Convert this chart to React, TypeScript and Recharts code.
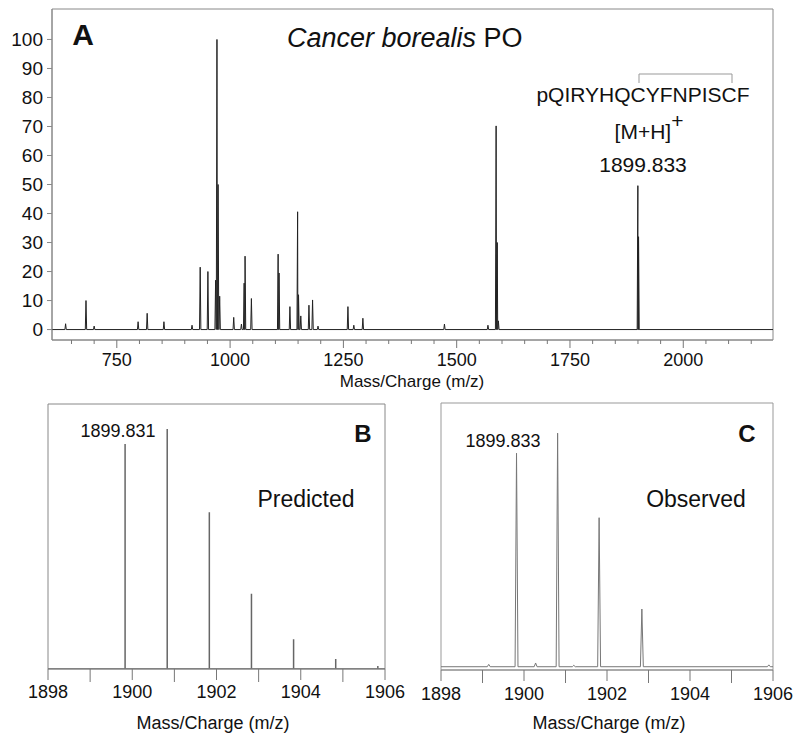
import { LineChart, Line, XAxis, YAxis, ReferenceArea } from "recharts";

const FONT = "'Liberation Sans', Arial, sans-serif";

// Panel A: full MALDI spectrum (m/z, relative intensity)
const spectrumMz = [
	637, 682, 700, 797, 817, 854, 916, 934, 951, 968, 971, 973.5, 977, 1008,
	1025, 1031, 1033, 1047, 1106, 1108, 1132, 1149, 1151, 1156, 1174, 1182,
	1194, 1260, 1273, 1293, 1473, 1569, 1587, 1589.5, 1592, 1899.8, 1901.3,
];
const spectrumIntensity = [
	2, 10, 1.2, 2.7, 5.6, 2.7, 1.5, 21.5, 20, 17, 100, 50, 11.5, 4.2, 1.9, 16,
	25.3, 10.7, 26, 19.5, 7.9, 40.6, 12, 4.7, 8.4, 10.2, 1.2, 7.9, 1.5, 3.9, 1.9,
	1.5, 70.2, 30, 3, 49.6, 32,
];
const overviewTicks = [
	650, 700, 750, 800, 850, 900, 950, 1000, 1050, 1100, 1150, 1200, 1250, 1300,
	1350, 1400, 1450, 1500, 1550, 1600, 1650, 1700, 1750, 1800, 1850, 1900, 1950,
	2000, 2050, 2100, 2150,
];
const overviewLabels = [750, 1000, 1250, 1500, 1750, 2000];
const intensityTicks = [0, 10, 20, 30, 40, 50, 60, 70, 80, 90, 100];

// Panel B: predicted isotope pattern
const predictedMz = [1899.83, 1900.83, 1901.83, 1902.83, 1903.83, 1904.83, 1905.83];
const predictedAbundance = [93.75, 100, 65.3, 31.4, 12.4, 4.2, 1.25];

// Panel C: observed isotope pattern
const observedMz = [1899.15, 1899.82, 1900.28, 1900.81, 1901.2, 1901.81, 1902.84, 1905.9];
const observedIntensity = [1.0, 91.4, 1.6, 100, 0.6, 63.8, 24.7, 0.8];

const isotopeTicks = [1898, 1899, 1900, 1901, 1902, 1903, 1904, 1905, 1906];
const isotopeLabels = [1898, 1900, 1902, 1904, 1906];

type Pt = { mz: number; v: number };

function peakTrace(mz: number[], h: number[], halfWidth: number, from: number, to: number): Pt[] {
	const pts: Pt[] = [{ mz: from, v: 0 }];
	mz.forEach((m, i) => {
		pts.push({ mz: m - halfWidth, v: 0 }, { mz: m, v: h[i] }, { mz: m + halfWidth, v: 0 });
	});
	pts.push({ mz: to, v: 0 });
	return pts.sort((a, b) => a.mz - b.mz);
}

function stickTrace(mz: number[], h: number[], from: number, to: number): Pt[] {
	const pts: Pt[] = [{ mz: from, v: 0 }];
	mz.forEach((m, i) => {
		pts.push({ mz: m, v: 0 }, { mz: m, v: h[i] }, { mz: m, v: 0 });
	});
	pts.push({ mz: to, v: 0 });
	return pts;
}

const spectrumA = peakTrace(spectrumMz, spectrumIntensity, 1.5, 607, 2198);
const spectrumB = stickTrace(predictedMz, predictedAbundance, 1898, 1906);
const spectrumC = peakTrace(observedMz, observedIntensity, 0.035, 1898, 1906);

function MzTick(props: any) {
	const { x, y, payload, labels, major, minor, dy, fontSize } = props;
	const v = payload.value;
	const isMajor = labels.includes(v);
	return (
		<g>
			<line x1={x} x2={x} y1={y} y2={y + (isMajor ? major : minor)} stroke="#777" strokeWidth={1} />
			{isMajor && (
				<text x={x} y={y + dy} textAnchor="middle" fontSize={fontSize} fill="#111" fontFamily={FONT}>
					{v}
				</text>
			)}
		</g>
	);
}

export default function App() {
	return (
		<div style={{ position: "absolute", left: 0, top: 0, width: 800, height: 738, background: "#fff" }}>
			<div style={{ position: "absolute", left: 0, top: 0 }}>
				<LineChart width={800} height={400} data={spectrumA} margin={{ top: 9, right: 27, left: 7, bottom: 30 }}>
					<XAxis
						dataKey="mz"
						type="number"
						domain={[607, 2198]}
						allowDataOverflow
						ticks={overviewTicks}
						interval={0}
						tickSize={0}
						tickMargin={0}
						height={30}
						stroke="#888"
						tick={(p: any) => <MzTick {...p} labels={overviewLabels} major={8} minor={4} dy={26} fontSize={18} />}
					/>
					<YAxis
						type="number"
						domain={[-3.6, 110.5]}
						allowDataOverflow
						ticks={intensityTicks}
						interval={0}
						width={45}
						tickSize={5}
						tickMargin={4}
						stroke="#888"
						tick={{ fontSize: 19, fill: "#111", fontFamily: FONT }}
					/>
					<ReferenceArea x1={607} x2={2198} y1={-3.6} y2={110.5} fill="none" stroke="#888" strokeWidth={1} />
					<Line dataKey="v" type="linear" stroke="#222" strokeWidth={1} dot={false} isAnimationActive={false} />
				</LineChart>
			</div>

			<div style={{ position: "absolute", left: 0, top: 390 }}>
				<LineChart width={420} height={348} data={spectrumB} margin={{ top: 14, right: 35, left: 48, bottom: 29 }}>
					<XAxis
						dataKey="mz"
						type="number"
						domain={[1898, 1906]}
						allowDataOverflow
						ticks={isotopeTicks}
						interval={0}
						tickSize={0}
						tickMargin={0}
						height={40}
						stroke="#888"
						tick={(p: any) => <MzTick {...p} labels={isotopeLabels} major={11} minor={13} dy={29} fontSize={18} />}
					/>
					<YAxis hide type="number" domain={[0, 110.4]} allowDataOverflow />
					<ReferenceArea x1={1898} x2={1906} y1={0} y2={110.4} fill="none" stroke="#888" strokeWidth={1} />
					<Line dataKey="v" type="linear" stroke="#666" strokeWidth={1.5} dot={false} isAnimationActive={false} />
				</LineChart>
			</div>

			<div style={{ position: "absolute", left: 400, top: 390 }}>
				<LineChart width={400} height={348} data={spectrumC} margin={{ top: 13, right: 27, left: 41, bottom: 28 }}>
					<XAxis
						dataKey="mz"
						type="number"
						domain={[1898, 1906]}
						allowDataOverflow
						ticks={isotopeTicks}
						interval={0}
						tickSize={0}
						tickMargin={0}
						height={40}
						stroke="#888"
						tick={(p: any) => <MzTick {...p} labels={isotopeLabels} major={11} minor={13} dy={30} fontSize={18} />}
					/>
					<YAxis hide type="number" domain={[-1.4, 112.9]} allowDataOverflow />
					<ReferenceArea x1={1898} x2={1906} y1={-1.4} y2={112.9} fill="none" stroke="#999" strokeWidth={1} />
					<Line dataKey="v" type="linear" stroke="#777" strokeWidth={1} dot={false} isAnimationActive={false} />
				</LineChart>
			</div>

			<svg
				width={800}
				height={738}
				style={{ position: "absolute", left: 0, top: 0, pointerEvents: "none" }}
				fontFamily={FONT}
				fill="#111"
			>
				<text x={83} y={45} textAnchor="middle" fontSize={30} fontWeight="bold">A</text>
				<text x={287} y={47} fontSize={27}>
					<tspan fontStyle="italic">Cancer borealis</tspan> PO
				</text>
				<path d="M639 83 V74 H732 V83" fill="none" stroke="#999" strokeWidth={1} />
				<text x={643} y={102} textAnchor="middle" fontSize={21}>pQIRYHQCYFNPISCF</text>
				<text x={649} y={139} textAnchor="middle" fontSize={21}>
					[M+H]<tspan dy={-11}>+</tspan>
				</text>
				<text x={643} y={172} textAnchor="middle" fontSize={21}>1899.833</text>
				<text x={412} y={387} textAnchor="middle" fontSize={17}>Mass/Charge (m/z)</text>

				<text x={118} y={437} textAnchor="middle" fontSize={18}>1899.831</text>
				<text x={363} y={442} textAnchor="middle" fontSize={24} fontWeight="bold">B</text>
				<text x={306} y={507} textAnchor="middle" fontSize={23}>Predicted</text>
				<text x={213} y={729} textAnchor="middle" fontSize={18}>Mass/Charge (m/z)</text>

				<text x={503} y={447} textAnchor="middle" fontSize={18}>1899.833</text>
				<text x={747} y={442} textAnchor="middle" fontSize={24} fontWeight="bold">C</text>
				<text x={696} y={507} textAnchor="middle" fontSize={23}>Observed</text>
				<text x={609} y={729} textAnchor="middle" fontSize={18}>Mass/Charge (m/z)</text>
			</svg>
		</div>
	);
}
